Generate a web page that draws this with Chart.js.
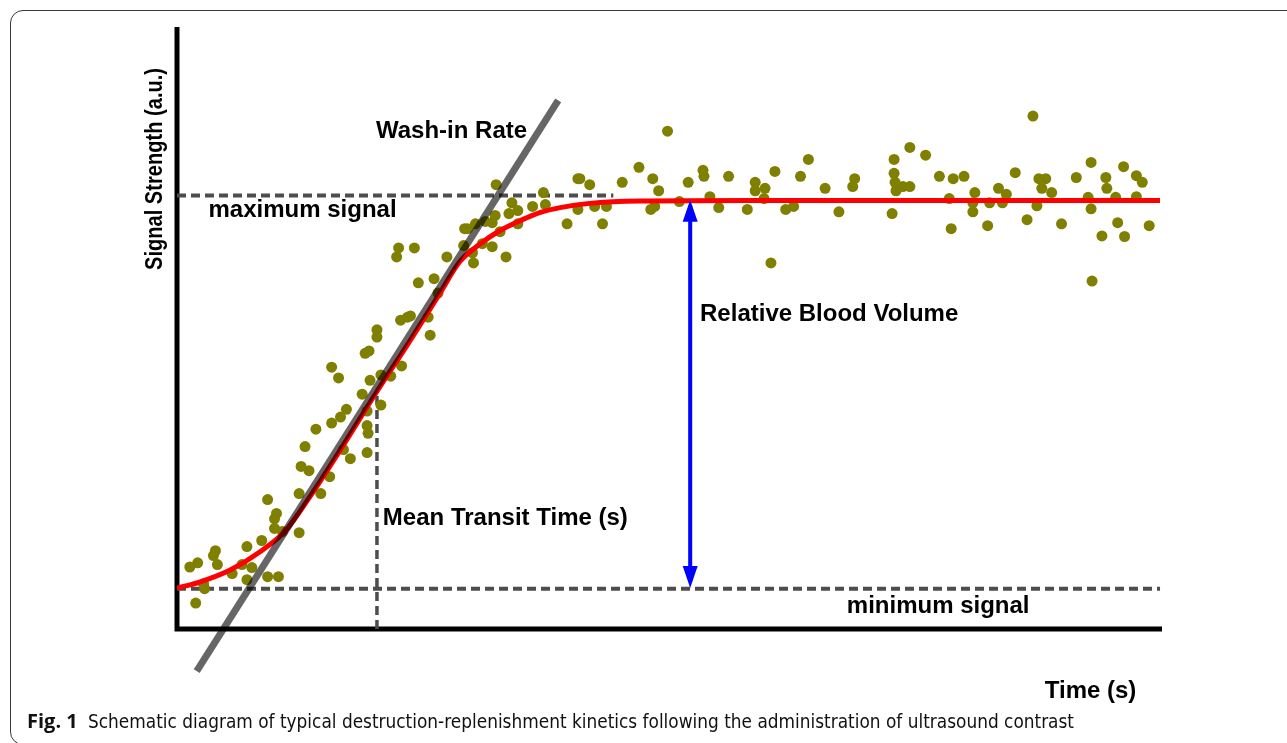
<!DOCTYPE html>
<html>
<head>
<meta charset="utf-8">
<script src="https://cdn.jsdelivr.net/npm/chart.js@4.4.0/dist/chart.umd.min.js"></script>
<style>
html, body { margin: 0; padding: 0; background: #fff; overflow: hidden; }
#frame { position: absolute; left: 10px; top: 10px; width: 1300px; height: 735px;
  border: 1.5px solid #3a3a3a; border-radius: 13px; box-sizing: border-box; }
#wrap { position: absolute; left: 0; top: 0; width: 1287px; height: 743px; }
.cap { position: absolute; top: 709px; font-size: 20px; line-height: 24px; white-space: nowrap; color: #111; transform-origin: 0 0; }
#capFig { left: 27px; font-family: "Open Sans", "Liberation Sans", sans-serif; font-weight: bold; }
#capText { left: 88px; font-family: "Liberation Sans Narrow", "DejaVu Sans Condensed", "Open Sans", sans-serif; }
</style>
</head>
<body>
<div id="frame"></div>
<div id="wrap"><canvas id="chart" width="1287" height="743"></canvas></div>
<div class="cap" id="capFig">Fig. 1</div>
<div class="cap" id="capText">Schematic diagram of typical destruction-replenishment kinetics following the administration of ultrasound contrast</div>
<script>
"use strict"
// measured signal (scatter)
const sampleTime = [
    1.3, 2.1, 1.9, 2.7, 2.8, 3.7, 3.9, 4.1, 5.6, 6.6,
    7.1, 7.6, 7.1, 8.6, 9.2, 10.3, 9.2, 10.1, 9.9, 9.9,
    10.7, 12.4, 12.4, 14.6, 15.5, 12.6, 13.4, 13.0, 14.1, 15.7,
    16.6, 17.2, 16.9, 17.6, 19.3, 19.3, 19.4, 19.3, 18.8, 19.6,
    20.7, 21.7, 20.7, 22.8, 15.7, 16.4, 19.1, 19.5, 20.3, 20.3,
    25.7,
    32.4, 37.2, 37.4, 36.1, 34.0, 34.6, 33.7, 34.6, 32.8, 32.3,
    32.0, 31.3, 30.3, 29.2, 29.5, 31.0, 32.0, 33.4, 29.1, 30.0,
    30.1, 27.4, 22.5, 24.1, 22.3, 24.5, 26.1, 26.5, 22.7, 23.4,
    23.7, 25.5,
    39.6, 40.7, 40.9, 41.9, 40.7, 42.4, 43.6, 43.2, 45.2, 46.9,
    48.3, 48.9, 48.1, 48.5, 49.8, 51.0, 51.9, 53.4, 53.5, 54.1,
    55.0, 56.0, 57.9, 58.7, 58.7, 59.7, 59.6, 60.7, 60.3, 61.8,
    62.6, 63.3, 64.1, 65.8, 67.2, 68.6, 68.8, 72.6, 72.8, 72.8,
    72.9, 73.0, 73.7, 74.4, 74.4, 76.0, 77.4, 78.4, 78.8, 78.6,
    79.9, 81.0, 80.8, 80.8, 82.3, 82.5, 83.4, 84.2, 83.8, 85.1,
    86.3, 86.9, 87.3, 87.5, 88.2, 87.8, 88.8, 89.8, 91.3, 92.8,
    92.5, 92.8, 92.9, 94.3, 94.4, 93.9, 95.3, 95.5, 96.1, 96.2,
    97.4, 98.0, 97.4, 98.7
];
const sampleSignal = [
    10.3, 11.0, 4.3, 7.5, 6.7, 12.2, 13.0, 10.7, 9.2, 10.7,
    13.7, 10.2, 8.2, 14.7, 8.7, 8.7, 21.5, 19.2, 18.3, 16.7,
    16.2, 16.0, 22.5, 22.5, 25.3, 27.0, 26.3, 30.3, 33.2, 34.2,
    35.2, 36.5, 29.8, 28.3, 29.3, 33.8, 32.5, 36.2, 39.0, 41.3,
    42.2, 42.0, 37.2, 43.7, 43.5, 41.7, 45.8, 46.2, 48.5, 49.7,
    48.8,
    73.8, 72.5, 70.5, 70.2, 70.8, 69.5, 69.0, 67.3, 66.0, 68.7,
    67.5, 67.7, 67.3, 66.5, 66.5, 64.0, 63.5, 61.8, 63.7, 62.5,
    60.8, 61.8, 63.3, 63.3, 61.8, 57.5, 58.2, 55.8, 51.3, 51.8,
    52.0, 51.8,
    67.3, 74.8, 74.8, 73.8, 69.7, 70.2, 70.2, 67.3, 74.2, 76.7,
    74.8, 72.8, 69.7, 70.2, 82.7, 71.0, 74.2, 76.2, 75.2, 71.8,
    70.0, 75.2, 69.7, 74.2, 72.8, 73.2, 71.5, 76.0, 60.8, 69.7,
    70.2, 75.2, 78.0, 73.2, 69.3, 73.5, 74.8, 69.0, 78.0, 75.7,
    74.2, 72.8, 73.5, 73.5, 80.0, 78.7, 75.2, 71.5, 74.8, 66.5,
    75.2, 72.5, 70.8, 69.3, 67.0, 70.8, 73.2, 72.2, 70.8, 75.8,
    68.0, 85.2, 70.3, 74.8, 74.8, 73.2, 72.5, 67.3, 75.0, 77.5,
    71.7, 69.8, 57.8, 75.0, 73.2, 65.3, 71.7, 67.5, 76.8, 65.2,
    75.3, 74.2, 71.8, 67.0
];

// fitted curve (red)
const fitTime = [0, 2.3, 5.4, 8.4, 11.0, 13.5, 16.6, 20.2, 23.7, 26.7, 28.7, 30.8, 32.8, 34.8, 36.9, 38.9, 41.9, 47.0, 58.2, 73.4, 99.8];
const fitSignal = [6.8, 7.8, 9.8, 12.8, 16.3, 22.0, 29.8, 39.2, 48.0, 55.8, 61.0, 64.0, 66.2, 67.8, 69.2, 70.0, 70.7, 71.1, 71.2, 71.2, 71.2];

// wash-in tangent
const washInTime = [2.0, 38.7];
const washInSignal = [-7.0, 87.8];

const minSignal = 6.7;
const maxSignal = 72.0;
const minEnd = 99.8;
const maxEnd = 44.3;
const meanTransitTime = 20.3;
const meanTransitSignal = 39.5;
const rbvTime = 52.1;
const rbvTop = 71.3;
const rbvBottom = 6.8;

const pts = (xs, ys) => xs.map((x, i) => ({ x: x, y: ys[i] }));

const labelFont = "bold 24px 'Liberation Sans', Arial, Helvetica, sans-serif";
const labels = [
    { text: "Wash-in Rate", x: 20.2, y: 81.6 },
    { text: "maximum signal", x: 3.2, y: 68.5 },
    { text: "Relative Blood Volume", x: 53.1, y: 51.2 },
    { text: "Mean Transit Time (s)", x: 20.9, y: 17.3 },
    { text: "minimum signal", x: 68.0, y: 2.7 },
    { text: "Time (s)", x: 88.1, y: -11.5 },
];

const decor = {
    id: "decor",
    beforeDatasetsDraw(chart) {
        const ctx = chart.ctx;
        const a = chart.chartArea;
        ctx.save();
        ctx.strokeStyle = "#000";
        ctx.lineWidth = 5;
        ctx.beginPath();
        ctx.moveTo(a.left, a.top);
        ctx.lineTo(a.left, a.bottom + 2.5);
        ctx.moveTo(a.left - 2.5, a.bottom);
        ctx.lineTo(a.right, a.bottom);
        ctx.stroke();
        ctx.restore();
    },
    afterDatasetsDraw(chart) {
        const ctx = chart.ctx;
        const xs = chart.scales.x;
        const ys = chart.scales.y;
        ctx.save();
        // arrow heads
        const ax = xs.getPixelForValue(rbvTime);
        const top = ys.getPixelForValue(rbvTop);
        const bot = ys.getPixelForValue(rbvBottom);
        ctx.fillStyle = "#0000ff";
        ctx.beginPath();
        ctx.moveTo(ax, top);
        ctx.lineTo(ax - 7.5, top + 22);
        ctx.lineTo(ax + 7.5, top + 22);
        ctx.closePath();
        ctx.moveTo(ax, bot);
        ctx.lineTo(ax - 7.5, bot - 22);
        ctx.lineTo(ax + 7.5, bot - 22);
        ctx.closePath();
        ctx.fill();

        // text
        ctx.fillStyle = "#000";
        ctx.font = labelFont;
        ctx.textBaseline = "alphabetic";
        ctx.textAlign = "left";
        labels.forEach(l => {
            ctx.fillText(l.text, xs.getPixelForValue(l.x), ys.getPixelForValue(l.y));
        });

        // y axis title
        const title = "Signal Strength (a.u.)";
        const w = ctx.measureText(title).width;
        ctx.translate(162, 169);
        ctx.rotate(-Math.PI / 2);
        ctx.scale(202 / w, 1);
        ctx.textAlign = "center";
        ctx.fillText(title, 0, 0);
        ctx.restore();
    }
};

const lineDefaults = { type: "line", showLine: true, pointRadius: 0, fill: false };
const dashColor = "#4d4d4d";

const myChart = new Chart(document.getElementById("chart"), {
    type: "scatter",
    plugins: [decor],
    data: {
        datasets: [
            Object.assign({}, lineDefaults, {
                data: pts(washInTime, washInSignal),
                borderColor: "rgba(0,0,0,0.6)",
                borderWidth: 7,
                clip: false,
                order: 0,
            }),
            Object.assign({}, lineDefaults, {
                data: pts(fitTime, fitSignal),
                borderColor: "#ff0000",
                borderWidth: 5,
                cubicInterpolationMode: "monotone",
                order: 1,
            }),
            {
                data: pts(sampleTime, sampleSignal),
                backgroundColor: "#808000",
                borderWidth: 0,
                pointRadius: 5.5,
                order: 2,
            },
            Object.assign({}, lineDefaults, {
                data: [{ x: rbvTime, y: rbvTop - 1 }, { x: rbvTime, y: rbvBottom + 1 }],
                borderColor: "#0000ff",
                borderWidth: 4,
                order: 3,
            }),
            Object.assign({}, lineDefaults, {
                data: [{ x: 0, y: minSignal }, { x: minEnd, y: minSignal }],
                borderColor: dashColor,
                borderWidth: 4,
                borderDash: [9, 5],
                order: 4,
            }),
            Object.assign({}, lineDefaults, {
                data: [{ x: 0, y: maxSignal }, { x: maxEnd, y: maxSignal }],
                borderColor: dashColor,
                borderWidth: 4,
                borderDash: [9, 5],
                order: 4,
            }),
            Object.assign({}, lineDefaults, {
                data: [{ x: meanTransitTime, y: 0 }, { x: meanTransitTime, y: meanTransitSignal }],
                borderColor: dashColor,
                borderWidth: 3.5,
                borderDash: [9, 5],
                order: 4,
            }),
        ],
    },
    options: {
        responsive: false,
        animation: false,
        layout: { padding: { left: 177, right: 125, top: 27, bottom: 114 } },
        plugins: { legend: { display: false }, tooltip: { enabled: false } },
        scales: {
            x: { type: "linear", min: 0, max: 100, display: false },
            y: { type: "linear", min: 0, max: 100, display: false },
        },
    },
});

// stretch caption text to the figure width
const capText = document.getElementById("capText");
const capW = capText.getBoundingClientRect().width;
capText.style.transform = "scaleX(" + ((1074 - 88) / capW) + ")";
</script>
</body>
</html>
